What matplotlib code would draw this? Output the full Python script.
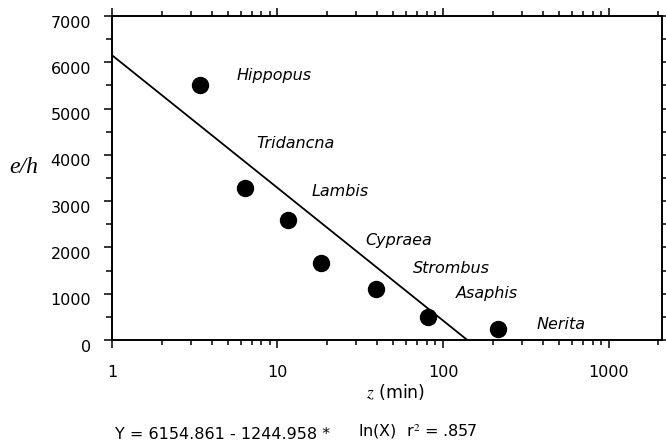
import numpy as np
import matplotlib
matplotlib.use("Agg")
import matplotlib.pyplot as plt
from matplotlib.ticker import LogLocator, MultipleLocator, NullFormatter, FixedLocator
import matplotlib.transforms as mtransforms

# data
genus = ["Hippopus", "Tridancna", "Lambis", "Cypraea", "Strombus", "Asaphis", "Nerita"]
z_min = [3.4, 6.35, 11.6, 18.2, 39.5, 80.8, 216]
e_per_h = [5500, 3280, 2590, 1660, 1100, 500, 250]

# where the genus names sit (data coords)
label_x = [5.7, 7.5, 16.0, 34.0, 66.0, 120, 365]
label_y = [5720, 4250, 3220, 2145, 1555, 1015, 345]

# regression Y = a - b * ln(X)
a_coef = 6154.861
b_coef = 1244.958

plt.rcParams['font.family'] = ['DejaVu Sans']
plt.rcParams['mathtext.fontset'] = 'stix'

fig = plt.figure(figsize=(6.66, 4.44), dpi=100)
ax = fig.add_axes([0.168, 0.234, 0.826, 0.730])

ax.plot(z_min, e_per_h, 'o', color='black', ms=11.5, zorder=3)

# fitted line, drawn down to where it hits zero
x_zero = np.exp(a_coef / b_coef)
xs = np.linspace(1, x_zero, 200)
ax.plot(xs, a_coef - b_coef * np.log(xs), color='black', lw=1.3)

for name, lx, ly in zip(genus, label_x, label_y):
    ax.text(lx, ly, name, fontsize=11.5, style='italic', va='center', ha='left')

ax.set_xscale('log')
ax.set_xlim(1, 2100)
ax.set_ylim(0, 7000)

ax.xaxis.set_major_locator(FixedLocator([1, 10, 100, 1000]))
ax.set_xticklabels(['1', '10', '100', '1000'])
ax.xaxis.set_minor_locator(LogLocator(base=10, subs=np.arange(2, 10)))
ax.xaxis.set_minor_formatter(NullFormatter())
ax.yaxis.set_major_locator(MultipleLocator(1000))
ax.yaxis.set_minor_locator(MultipleLocator(500))

ax.tick_params(axis='both', which='both', direction='out', top=True, right=True,
               labelsize=11.5, width=1.1)
ax.tick_params(axis='y', which='major', length=6, pad=9)
ax.tick_params(axis='y', which='minor', length=4)
ax.tick_params(axis='x', which='major', length=6, pad=12)
ax.tick_params(axis='x', which='minor', length=3.5)

for lbl in ax.get_yticklabels():
    lbl.set_transform(lbl.get_transform() +
                      mtransforms.ScaledTranslation(0, -4 / 72, fig.dpi_scale_trans))

for sp in ax.spines.values():
    sp.set_linewidth(1.4)

ax.set_ylabel('e/h', fontsize=17, family='Liberation Serif', style='italic', rotation=0)
ax.yaxis.set_label_coords(-0.16, 0.50)
ax.set_xlabel(r'$z$ (min)', fontsize=12.5, labelpad=2)
ax.xaxis.set_label_coords(0.515, -0.13)

fig.text(0.173, 0.012, 'Y = 6154.861 - 1244.958 *', fontsize=11.5, va='baseline')
fig.text(0.537, 0.018, r'ln(X)  r$^2$ = .857', fontsize=11.5, va='baseline')

fig.savefig('out.png', dpi=100)
